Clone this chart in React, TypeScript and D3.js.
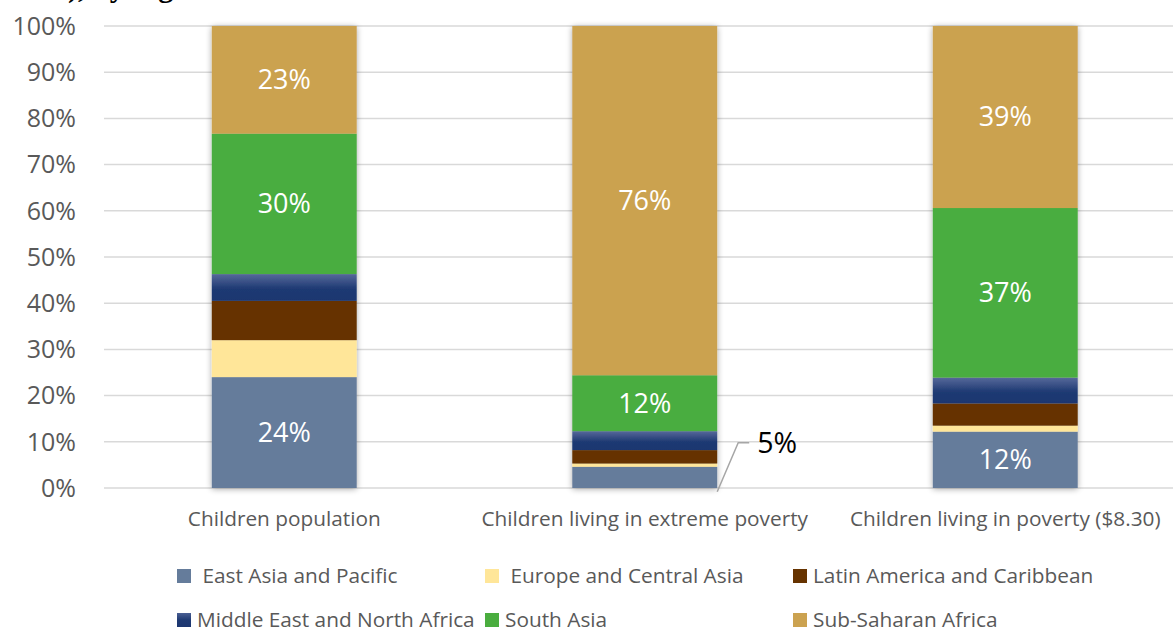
import React from "react";
import * as d3 from "d3";

const categories = [
  "Children population",
  "Children living in extreme poverty",
  "Children living in poverty ($8.30)",
];

const regions = [
  "East Asia and Pacific",
  "Europe and Central Asia",
  "Latin America and Caribbean",
  "Middle East and North Africa",
  "South Asia",
  "Sub-Saharan Africa",
];

// values in % per region, one entry per category
const eastAsia = [24.0, 4.6, 12.2];
const europe = [8.0, 0.7, 1.3];
const latinAmerica = [8.5, 2.9, 4.8];
const middleEast = [5.8, 4.1, 5.6];
const southAsia = [30.4, 12.1, 36.7];
const subSaharan = [23.3, 75.6, 39.4];

// which segments carry a data label (inside = white label, callout = leader line)
const labelInside = [
  [true, false, true],
  [false, false, false],
  [false, false, false],
  [false, false, false],
  [true, true, true],
  [true, true, true],
];
const labelCallout = [
  [false, true, false],
  [false, false, false],
  [false, false, false],
  [false, false, false],
  [false, false, false],
  [false, false, false],
];

const yTicks = [0, 10, 20, 30, 40, 50, 60, 70, 80, 90, 100];

const colors = ["#657c9b", "#ffe699", "#663300", "url(#menaGrad)", "#4aad3f", "#cba250"];
const legendColors = ["#657c9b", "#ffe699", "#663300", "url(#menaGradL)", "#4aad3f", "#cba250"];
// legend names as shown (first row items carry a leading space)
const legendNames = [
  " East Asia and Pacific",
  " Europe and Central Asia",
  "Latin America and Caribbean",
  "Middle East and North Africa",
  "South Asia",
  "Sub-Saharan Africa",
];

const W = 1173;
const H = 631;
const FONT = "'Open Sans', 'Noto Sans', sans-serif";

export default function App() {
  const series = [eastAsia, europe, latinAmerica, middleEast, southAsia, subSaharan];
  const rows = categories.map((c, i) => {
    const r: any = { cat: c };
    regions.forEach((reg, j) => (r[reg] = series[j][i]));
    return r;
  });
  const stacked = d3.stack<any>().keys(regions)(rows);

  const y = d3.scaleLinear().domain([0, 100]).range([488, 26]);
  const x = d3
    .scaleBand<string>()
    .domain(categories)
    .range([104, 1185.5])
    .paddingInner(0.598)
    .paddingOuter(0.299);
  const bw = x.bandwidth();

  const legendX = [177, 485, 793];
  const legendY = [576, 620];

  return (
    <div style={{ position: "absolute", left: 0, top: 0, width: W, height: H, background: "#fff" }}>
      <svg width={W} height={H} style={{ display: "block" }}>
        <defs>
          <linearGradient id="menaGrad" x1="0" y1="0" x2="0" y2="1">
            <stop offset="0" stopColor="#56689a" />
            <stop offset="0.55" stopColor="#1f3a73" />
            <stop offset="1" stopColor="#1c3670" />
          </linearGradient>
          <linearGradient id="menaGradL" x1="0" y1="0" x2="0" y2="1">
            <stop offset="0" stopColor="#4a5f93" />
            <stop offset="0.5" stopColor="#1f3a73" />
            <stop offset="1" stopColor="#1c3670" />
          </linearGradient>
          <filter id="shadow" x="-20%" y="-5%" width="140%" height="110%">
            <feGaussianBlur in="SourceAlpha" stdDeviation="3" />
            <feOffset dx="0" dy="1" result="b" />
            <feComponentTransfer>
              <feFuncA type="linear" slope="0.35" />
            </feComponentTransfer>
            <feMerge>
              <feMergeNode />
              <feMergeNode in="SourceGraphic" />
            </feMerge>
          </filter>
        </defs>

        {/* title, cut off at the top edge as in the source */}
        <text x={68} y={-3} fontFamily="'Liberation Serif', 'DejaVu Serif', serif" fontWeight="bold" fontSize={30} fill="#000">
          ), by region
        </text>

        {/* gridlines */}
        {yTicks.map((t) => (
          <line key={t} x1={104} x2={W} y1={y(t)} y2={y(t)} stroke="#d9d9d9" strokeWidth={1.5} />
        ))}
        {/* y tick labels */}
        {yTicks.map((t) => (
          <text key={"l" + t} x={76} y={y(t)} dy="0.35em" textAnchor="end" fontFamily={FONT} fontSize={25} fill="#595959">
            {t}%
          </text>
        ))}

        {/* bars */}
        {categories.map((c, i) => (
          <g key={c} filter="url(#shadow)">
            {stacked.map((s, j) => (
              <rect
                key={j}
                x={x(c)}
                width={bw}
                y={y(s[i][1])}
                height={y(s[i][0]) - y(s[i][1])}
                fill={colors[j]}
              />
            ))}
          </g>
        ))}

        {/* data labels */}
        {stacked.map((s, j) =>
          categories.map((c, i) => {
            const v = series[j][i];
            const cx = (x(c) as number) + bw / 2;
            const cy = (y(s[i][0]) + y(s[i][1])) / 2;
            if (labelInside[j][i]) {
              return (
                <text key={"d" + j + i} x={cx} y={cy} dy="0.35em" textAnchor="middle" fontFamily={FONT} fontSize={27} fill="#fff">
                  {Math.round(v)}%
                </text>
              );
            }
            if (labelCallout[j][i]) {
              const x0 = (x(c) as number) + bw;
              const y0 = y(s[i][0]) + (y(s[i][0]) - y(s[i][1])) * -0.2;
              const ly = y(10) + 1;
              return (
                <g key={"c" + j + i}>
                  <polyline
                    points={`${x0},${y0 + 8} ${x0 + 21},${ly} ${x0 + 32},${ly}`}
                    fill="none"
                    stroke="#a6a6a6"
                    strokeWidth={1.5}
                  />
                  <text x={x0 + 40} y={ly} dy="0.35em" fontFamily={FONT} fontSize={28.5} fill="#000">
                    {Math.round(v)}%
                  </text>
                </g>
              );
            }
            return null;
          })
        )}

        {/* category labels */}
        {categories.map((c) => (
          <text key={"x" + c} x={(x(c) as number) + bw / 2} y={519} dy="0.35em" textAnchor="middle" fontFamily={FONT} fontSize={20.8} fill="#595959">
            {c}
          </text>
        ))}

        {/* legend */}
        {legendNames.map((n, k) => {
          const col = k % 3;
          const row = Math.floor(k / 3);
          const lx = legendX[col];
          const ly = legendY[row];
          return (
            <g key={"lg" + k}>
              <rect x={lx} y={ly - 7} width={14} height={14} fill={legendColors[k]} />
              <text x={lx + 20} y={ly} dy="0.35em" fontFamily={FONT} fontSize={20.8} fill="#595959" style={{ whiteSpace: "pre" }}>
                {n}
              </text>
            </g>
          );
        })}
      </svg>
    </div>
  );
}
